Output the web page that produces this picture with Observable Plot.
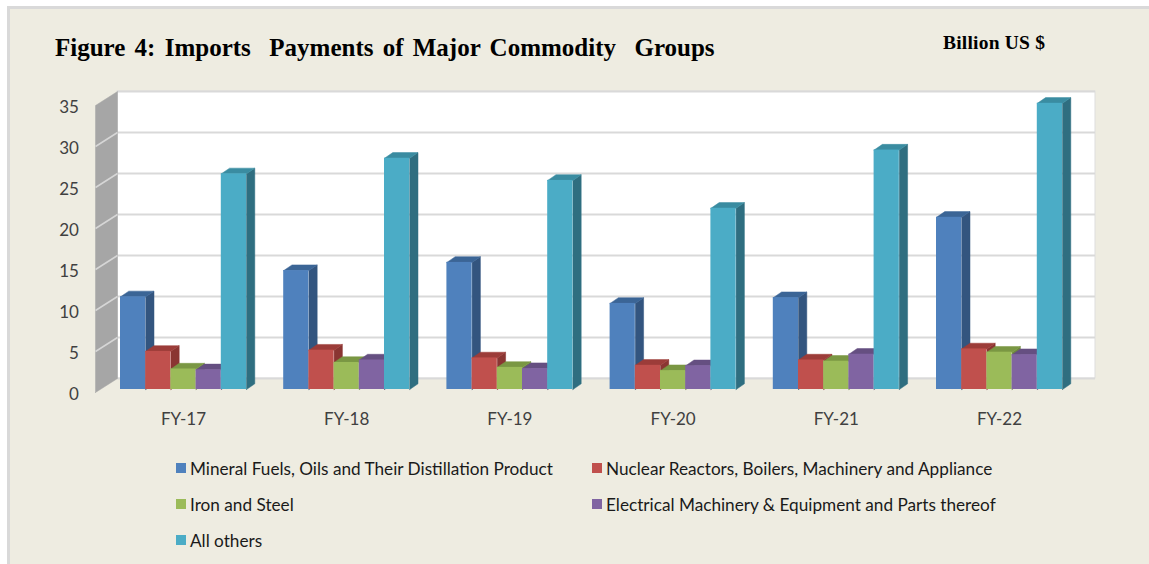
<!DOCTYPE html>
<html>
<head>
<meta charset="utf-8">
<script src="https://cdn.jsdelivr.net/npm/d3@7"></script>
<script src="https://cdn.jsdelivr.net/npm/@observablehq/plot@0.6"></script>
<style>
  html, body { margin: 0; padding: 0; background: #ffffff; width: 1149px; height: 564px; overflow: hidden; }
  #frame { position: absolute; left: 7px; top: 6px; right: 0; bottom: 0; background: #EEECE1;
           border-left: 3px solid #D9D9D9; border-top: 3px solid #D9D9D9; }
  #title { position: absolute; left: 55px; top: 35px; font-family: "Liberation Serif", "Times New Roman", serif;
           font-weight: bold; font-size: 25px; line-height: 25px; color: #000; white-space: pre; word-spacing: 3px; }
  #unit { position: absolute; left: 943px; top: 33px; font-family: "Liberation Serif", "Times New Roman", serif;
          font-weight: bold; font-size: 19.5px; line-height: 19.5px; color: #000; white-space: pre; letter-spacing: 0.2px; }
  #chart { position: absolute; left: 0; top: 70px; }
  #legend { position: absolute; left: 176px; top: 450px; display: grid; grid-template-columns: 416px 440px;
            grid-auto-rows: 36px; font-family: Lato, "Open Sans", sans-serif; font-size: 17.2px; color: #1a1a1a; }
  .item { display: flex; align-items: center; white-space: nowrap; }
  .sw { width: 10px; height: 10px; margin-right: 4px; flex: none; }
</style>
</head>
<body>
<div id="frame"></div>
<div id="title">Figure 4: Imports  Payments of Major Commodity  Groups</div>
<div id="unit">Billion US $</div>
<div id="chart"></div>
<div id="legend"></div>
<script>
// ---- data ----
const years = ["FY-17", "FY-18", "FY-19", "FY-20", "FY-21", "FY-22"];
const seriesNames = [
  "Mineral Fuels, Oils and Their Distillation Product",
  "Nuclear Reactors, Boilers, Machinery and Appliance",
  "Iron and Steel",
  "Electrical Machinery & Equipment and Parts thereof",
  "All others"
];
const mineralFuels = [11.3, 14.5, 15.5, 10.5, 11.2, 21.0];
const nuclearReactors = [4.65, 4.8, 3.85, 2.95, 3.6, 4.95];
const ironSteel = [2.5, 3.3, 2.7, 2.3, 3.45, 4.55];
const electrical = [2.4, 3.6, 2.55, 2.9, 4.3, 4.25];
const allOthers = [26.3, 28.2, 25.5, 22.1, 29.2, 34.9];
const yTicks = [0, 5, 10, 15, 20, 25, 30, 35];

// ---- styles ----
const frontColors = ["#4F81BD", "#C0504D", "#9BBB59", "#8064A2", "#4BACC6"];
const sideColors  = ["#33557F", "#8A3532", "#6F8A3C", "#5B4677", "#2F6E80"];
const topColors   = ["#3B6596", "#9C3C39", "#7A9743", "#654F81", "#3A8CA1"];

const values = [mineralFuels, nuclearReactors, ironSteel, electrical, allOthers];

// 3D geometry constants (in scale units)
const pxX = 163.2, pxY = 8.2;           // pixels per unit
const wallDX = 22 / pxX, wallDY = 14 / pxY;  // depth of side wall
const sideX0 = -6.4 / pxX;              // front edge of side wall
const wallX0 = sideX0 + wallDX, wallX1 = 993.6 / pxX;
const base = 3 / pxY;                   // bars' front base above front zero
const barDX = 8.3 / pxX, barDY = 5.7 / pxY;
const groupPad = 0.114, barW = 0.1544;

// build polygons and rects
const fronts = [], sides = [], tops = [];
values.forEach((arr, s) => {
  arr.forEach((v, i) => {
    const x1 = i + groupPad + s * barW, x2 = x1 + barW;
    const yTop = base + v;
    fronts.push({s, x1, x2, y1: base, y2: yTop, year: years[i], value: v});
    const sid = `${s}-${i}`;
    [[x2, base], [x2 + barDX, base + barDY], [x2 + barDX, yTop + barDY], [x2, yTop], [x2, base]]
      .forEach(([x, y]) => sides.push({s, id: sid, x, y}));
    [[x1, yTop], [x1 + barDX, yTop + barDY], [x2 + barDX, yTop + barDY], [x2, yTop], [x1, yTop]]
      .forEach(([x, y]) => tops.push({s, id: sid, x, y}));
  });
});

const sideWall = [[sideX0, 0], [wallX0, wallDY], [wallX0, 35 + wallDY], [sideX0, 35], [sideX0, 0]]
  .map(([x, y]) => ({x, y}));

const barMarks = [];
for (let s = 0; s < 5; s++) {
  barMarks.push(
    Plot.line(sides.filter(d => d.s === s), {x: "x", y: "y", z: "id", fill: sideColors[s], stroke: sideColors[s], strokeWidth: 0.5, curve: "linear"}),
    Plot.line(tops.filter(d => d.s === s), {x: "x", y: "y", z: "id", fill: topColors[s], stroke: topColors[s], strokeWidth: 0.5, curve: "linear"}),
    Plot.rect(fronts.filter(d => d.s === s), {x1: "x1", x2: "x2", y1: "y1", y2: "y2", fill: frontColors[s]})
  );
}

const chart = Plot.plot({
  width: 1149,
  height: 370,
  marginLeft: 101.4,
  marginRight: 68.4,
  marginTop: 10,
  marginBottom: 48,
  x: {domain: [0, 6], range: [101.4, 1080.6]},
  y: {domain: [0, 35], range: [322, 35]},
  style: {background: "transparent", fontFamily: "Lato, 'Open Sans', sans-serif", fontSize: "17px", color: "#404040"},
  marks: [
    // back wall
    Plot.rect([0], {x1: wallX0, x2: wallX1, y1: wallDY, y2: 35 + wallDY, fill: "#ffffff", stroke: "#DDDDDD", strokeWidth: 1}),
    Plot.ruleY(yTicks, {y: d => d + wallDY, x1: wallX0, x2: wallX1, stroke: "#D9D9D9", strokeWidth: 2}),
    // side wall
    Plot.line(sideWall, {x: "x", y: "y", fill: "#A6A6A6", stroke: "#A6A6A6", strokeWidth: 0.5}),
    Plot.link(yTicks.slice(1, 7), {x1: sideX0, y1: d => d, x2: wallX0, y2: d => d + wallDY, stroke: "#D6D6D6", strokeWidth: 1.5}),
    ...barMarks,
    Plot.axisY({ticks: yTicks, tickSize: 0, tickPadding: 23, dy: 2, fontSize: 17, fill: "#404040"}),
    Plot.axisX({ticks: years.map((_, i) => i + 0.5), tickFormat: d => years[Math.floor(d)], tickSize: 0, tickPadding: 20, fontSize: 17, fill: "#404040"})
  ]
});
document.getElementById("chart").appendChild(chart);

// legend
const legend = document.getElementById("legend");
seriesNames.forEach((name, s) => {
  const item = document.createElement("div");
  item.className = "item";
  const sw = document.createElement("span");
  sw.className = "sw";
  sw.style.background = frontColors[s];
  const label = document.createElement("span");
  label.textContent = name;
  item.appendChild(sw);
  item.appendChild(label);
  legend.appendChild(item);
});
</script>
</body>
</html>
